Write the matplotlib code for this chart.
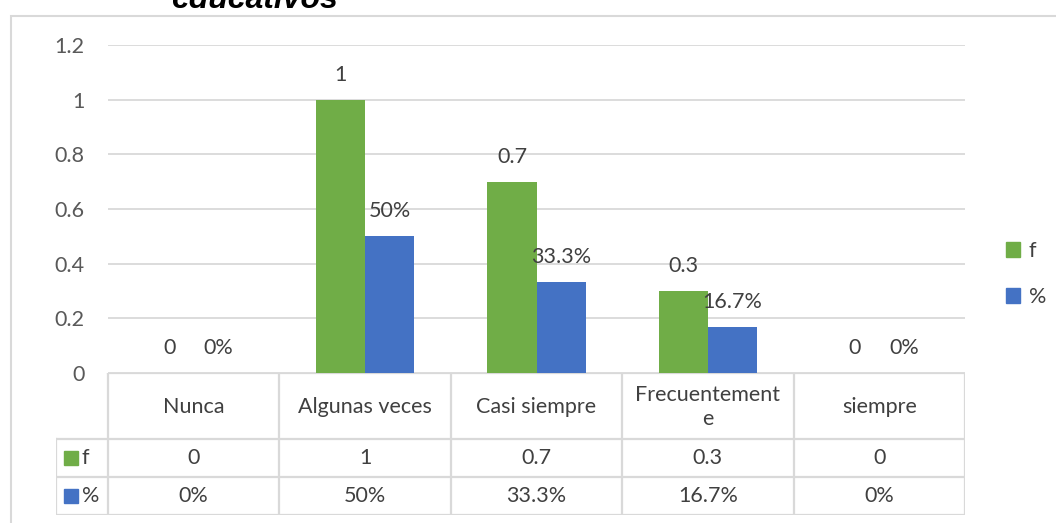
import matplotlib
matplotlib.use("Agg")
import matplotlib.pyplot as plt
import numpy as np
from matplotlib.patches import Patch, Rectangle

plt.rcParams['font.family'] = ['Lato', 'DejaVu Sans']

categories = ["Nunca", "Algunas veces", "Casi siempre", "Frecuentemente", "siempre"]
f_values = [0, 1, 0.7, 0.3, 0]
pct_values = [0, 0.5, 0.333, 0.167, 0]
f_labels = ["0", "1", "0.7", "0.3", "0"]
pct_labels = ["0%", "50%", "33.3%", "16.7%", "0%"]
series_names = ["f", "%"]
yticks = [0, 0.2, 0.4, 0.6, 0.8, 1, 1.2]
ytick_labels = ["0", "0.2", "0.4", "0.6", "0.8", "1", "1.2"]
title = "educativos"

GREEN = "#70AD47"
BLUE = "#4472C4"
GRID = "#D9D9D9"
TXT = "#404040"
TICK = "#595959"
FS = 15.5

W, H = 1056, 523
fig = plt.figure(figsize=(W / 100, H / 100), dpi=100)

# plot area in pixels
x0, x1, y_top, y_zero = 108, 965, 45, 373
ax = fig.add_axes([x0 / W, 1 - y_zero / H, (x1 - x0) / W, (y_zero - y_top) / H])
n = len(categories)
x = np.arange(n)
bw = 0.286
ax.bar(x - bw / 2, f_values, bw, color=GREEN, zorder=3)
ax.bar(x + bw / 2, pct_values, bw, color=BLUE, zorder=3)
ax.set_xlim(-0.5, n - 0.5)
ax.set_ylim(0, 1.2)
ax.set_yticks(yticks)
ax.set_yticklabels(ytick_labels)
ax.set_xticks([])
ax.tick_params(axis='y', length=0, pad=17, labelsize=FS, labelcolor=TICK)
ax.grid(axis='y', color=GRID, lw=1.3, zorder=0)
for s in ax.spines.values():
    s.set_visible(False)

for i in range(n):
    ax.annotate(f_labels[i], (x[i] - bw / 2, f_values[i]), xytext=(0, 18),
                textcoords='offset points', ha='center', va='center',
                fontsize=FS, color=TXT)
    ax.annotate(pct_labels[i], (x[i] + bw / 2, pct_values[i]), xytext=(0, 18),
                textcoords='offset points', ha='center', va='center',
                fontsize=FS, color=TXT)

# data table below the plot
col_px = (x1 - x0) / n
t_left, t_bottom = 56, 515
axt = fig.add_axes([t_left / W, 1 - t_bottom / H, (x1 - t_left) / W, (t_bottom - y_zero) / H])
axt.set_xlim(-0.5 - (x0 - t_left) / col_px, n - 0.5)
axt.set_ylim(t_bottom - y_zero, 0)
axt.axis('off')
xl = -0.5 - (x0 - t_left) / col_px
rows = [0, 66, 104, 142]
lk = dict(color=GRID, lw=1.6, solid_capstyle='projecting')
axt.plot([-0.5, n - 0.5], [rows[0], rows[0]], **lk)
for r in rows[1:]:
    axt.plot([xl, n - 0.5], [r, r], **lk)
axt.plot([xl, xl], [rows[1], rows[3]], **lk)
for i in range(n + 1):
    axt.plot([i - 0.5, i - 0.5], [rows[0], rows[3]], **lk)


def wrap(s, w=13):
    return "\n".join(s[k:k + w] for k in range(0, len(s), w))


for i, c in enumerate(categories):
    axt.text(i, (rows[0] + rows[1]) / 2 + 1, wrap(c), ha='center', va='center',
             fontsize=FS, color=TXT, linespacing=1.3)
    axt.text(i, (rows[1] + rows[2]) / 2, f_labels[i], ha='center', va='center',
             fontsize=FS, color=TXT)
    axt.text(i, (rows[2] + rows[3]) / 2, pct_labels[i], ha='center', va='center',
             fontsize=FS, color=TXT)

sq = 14 / col_px
for r0, r1, name, colr in [(rows[1], rows[2], series_names[0], GREEN),
                           (rows[2], rows[3], series_names[1], BLUE)]:
    ym = (r0 + r1) / 2
    axt.add_patch(Rectangle((xl + 8 / col_px, ym - 7), sq, 14, color=colr))
    axt.text(xl + 26 / col_px, ym, name, ha='left', va='center', fontsize=FS, color=TXT)

# legend on the right
handles = [Patch(color=GREEN), Patch(color=BLUE)]
fig.legend(handles, series_names, loc='center left', bbox_to_anchor=(987 / W, 1 - 274 / H),
           frameon=False, fontsize=FS, labelcolor=TXT, handlelength=0.65, handleheight=0.65,
           handletextpad=0.4, labelspacing=1.2)

# chart border (partly outside the picture)
fig.add_artist(Rectangle((10.5 / W, -0.1), 1.2, 0.1 + (H - 16) / H, transform=fig.transFigure,
                         fill=False, edgecolor=GRID, lw=1.5))

fig.text(254 / W, 1 - 8 / H, title, ha='center', va='baseline', fontsize=23,
         fontweight='bold', fontstyle='italic', family='Liberation Sans', color='black')

fig.savefig("out.png", dpi=100)
